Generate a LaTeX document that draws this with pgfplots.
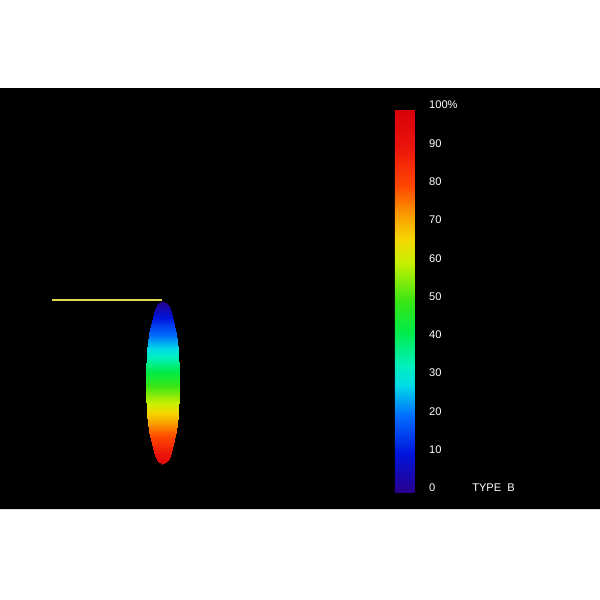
\documentclass[border=0pt]{standalone}
\usepackage{pgfplots}
\pgfplotsset{compat=1.18}
\usepackage{fontspec}
\setmainfont{Liberation Sans}

\pgfplotstableread{
x y c
162.50 301.00 0.0
162.50 301.00 0.0
159.22 302.63 1.0
165.78 302.63 1.0
157.35 305.08 2.4
167.65 305.08 2.4
155.31 309.15 4.8
169.69 309.15 4.8
152.60 317.30 9.6
172.40 317.30 9.6
150.72 325.45 14.4
174.28 325.45 14.4
149.30 333.60 19.2
175.70 333.60 19.2
148.21 341.75 24.0
176.79 341.75 24.0
147.38 349.90 28.8
177.62 349.90 28.8
146.76 358.05 33.6
178.24 358.05 33.6
146.33 366.20 38.4
178.67 366.20 38.4
146.08 374.35 43.2
178.92 374.35 43.2
146.00 382.50 48.0
179.00 382.50 48.0
146.08 390.65 52.8
178.92 390.65 52.8
146.33 398.80 57.6
178.67 398.80 57.6
146.76 406.95 62.4
178.24 406.95 62.4
147.38 415.10 67.2
177.62 415.10 67.2
148.21 423.25 72.0
176.79 423.25 72.0
149.30 431.40 76.8
175.70 431.40 76.8
150.72 439.55 81.6
174.28 439.55 81.6
152.60 447.70 86.4
172.40 447.70 86.4
155.31 455.85 91.2
169.69 455.85 91.2
157.35 459.93 93.6
167.65 459.93 93.6
159.22 462.37 95.0
165.78 462.37 95.0
162.50 464.00 96.0
162.50 464.00 96.0
}\ellipsedata

\begin{document}
\begin{tikzpicture}
\begin{axis}[
  scale only axis, width=432pt, height=432pt,
  xmin=0, xmax=600, ymin=0, ymax=600, y dir=reverse,
  axis line style={draw=none}, xtick=\empty, ytick=\empty,
  axis background/.style={fill=white},
  colormap={beam}{
    rgb255(0pt)=(40,0,140);
    rgb255(10pt)=(0,20,220);
    rgb255(20pt)=(0,110,255);
    rgb255(28pt)=(0,220,230);
    rgb255(33pt)=(0,240,190);
    rgb255(42pt)=(0,235,70);
    rgb255(50pt)=(60,230,20);
    rgb255(60pt)=(200,240,0);
    rgb255(66pt)=(245,215,0);
    rgb255(72pt)=(250,160,0);
    rgb255(80pt)=(255,70,0);
    rgb255(90pt)=(235,20,10);
    rgb255(100pt)=(215,0,10)
  },
  point meta min=0, point meta max=100,
  colorbar,
  colorbar style={
    at={(parent axis.north west)}, anchor=north west,
    xshift=275.8pt, yshift=-78.48pt,
    width=15.12pt, height=275.76pt,
    ytick={0,10,...,100},
    yticklabels={0,10,20,30,40,50,60,70,80,90,100\%},
    major tick length=0pt,
    axis line style={draw=none},
    /pgf/number format/assume math mode=true,
    yticklabel style={font=\fontsize{8}{9.6}\selectfont, text=white, anchor=west, xshift=6pt, yshift=2.9pt},
  },
]
\addplot[fill=black, draw=none] coordinates {(0,88) (600,88) (600,509) (0,509) (0,88)};
\addplot[draw={rgb,255:red,225;green,215;blue,80}, line width=1.1pt] coordinates {(52,300) (162,300)};
\addplot[surf, shader=interp, mesh/cols=2, point meta=explicit] table[x=x, y=y, meta=c] {\ellipsedata};
\node[anchor=west, text=white, font=\fontsize{8}{9.6}\selectfont, inner sep=0pt] at (axis cs:472,488) {TYPE\ \ B};
\end{axis}
\end{tikzpicture}
\end{document}
